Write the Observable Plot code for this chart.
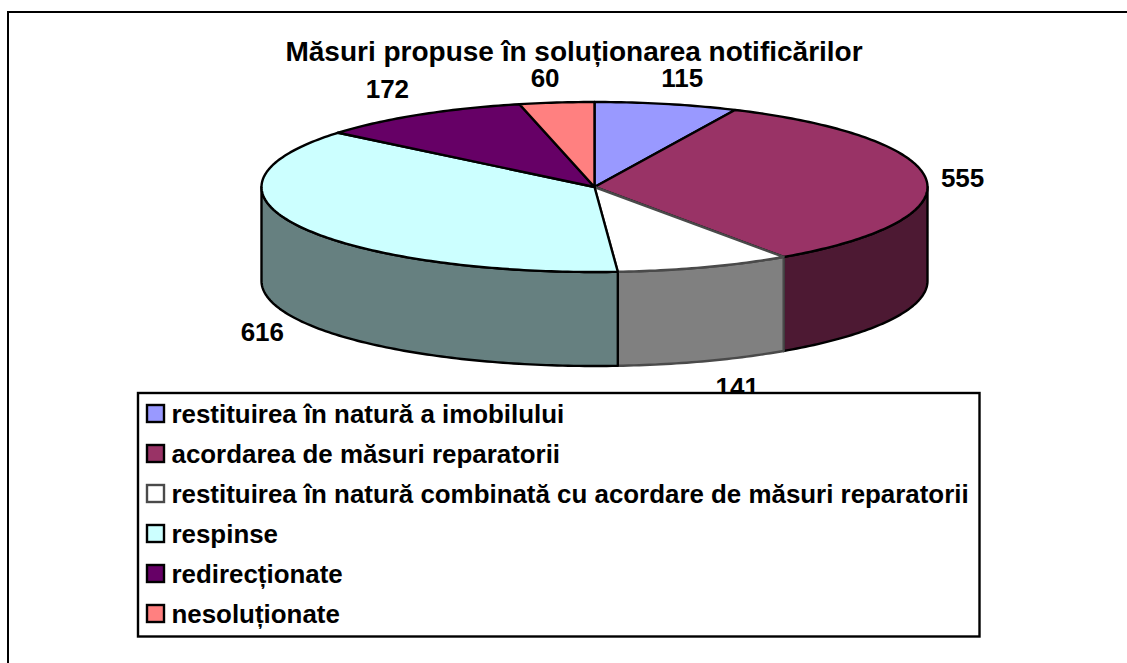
<!DOCTYPE html>
<html>
<head>
<meta charset="utf-8">
<script src="https://cdn.jsdelivr.net/npm/d3@7"></script>
<script src="https://cdn.jsdelivr.net/npm/@observablehq/plot@0.6"></script>
<style>html,body{margin:0;padding:0;background:#fff}svg{display:block}</style>
</head>
<body>
<div id="chart"></div>
<script>
const chartTitle = "Măsuri propuse în soluționarea notificărilor";
const categories = [
  "restituirea în natură a imobilului",
  "acordarea de măsuri reparatorii",
  "restituirea în natură combinată cu acordare de măsuri reparatorii",
  "respinse",
  "redirecționate",
  "nesoluționate"
];
const values = [115, 555, 141, 616, 172, 60];
const topColors = ["#9999FF", "#993366", "#FFFFFF", "#CCFFFF", "#660066", "#FF8080"];
const sideColors = ["#4D4D80", "#4D1933", "#808080", "#668080", "#330033", "#804040"];
const edgeColors = ["#000", "#000", "#4a4a4a", "#000", "#000", "#000"];
const labelNudgeX = [5, -13.5, 16, 8.5, -6, -6];
const labelNudgeY = [-12.5, 0, 14, 7, -14, -11.5];

// Pie geometry (projected ellipse)
const W = 1127, H = 663;
const cx = 594, cy = 186.5, rx = 333, ry = 85, depth = 94;
const total = d3.sum(values);
const cum = d3.cumsum(values);
const rad = v => (v / total) * 2 * Math.PI;
const px = a => cx + rx * Math.sin(a);
const py = a => cy - ry * Math.cos(a);
const arc = (a0, a1) => {
  const n = Math.max(2, Math.ceil(Math.abs(a1 - a0) * 60));
  return d3.range(n + 1).map(i => a0 + (a1 - a0) * i / n);
};
const slices = values.map((v, i) => ({i, a0: rad(cum[i] - v), a1: rad(cum[i])}));

const topShape = s => {
  const pts = [{x: cx, y: cy}, ...arc(s.a0, s.a1).map(a => ({x: px(a), y: py(a)})), {x: cx, y: cy}];
  return pts;
};
const sideShape = s => {
  const lo = Math.max(s.a0, Math.PI / 2), hi = Math.min(s.a1, 3 * Math.PI / 2);
  if (hi <= lo) return null;
  const t = arc(lo, hi);
  const pts = [...t.map(a => ({x: px(a), y: py(a)})), ...t.slice().reverse().map(a => ({x: px(a), y: py(a) + depth}))];
  pts.push(pts[0]);
  return pts;
};

const poly = (pts, fill, stroke) => Plot.line(pts, {x: "x", y: "y", fill, stroke, strokeWidth: 2.4, curve: "linear", strokeLinejoin: "round"});

const labels = slices.map(s => {
  const m = (s.a0 + s.a1) / 2;
  const front = Math.cos(m) < 0;
  return {
    text: String(values[s.i]),
    x: cx + 1.15 * rx * Math.sin(m) + labelNudgeX[s.i],
    y: cy - 1.15 * ry * Math.cos(m) + (front ? depth : 0) + labelNudgeY[s.i]
  };
});

const legendRows = categories.map((c, i) => ({c, i, y: 414 + 40 * i}));
const font = {fontFamily: "'Liberation Sans', Arial, sans-serif", fontWeight: "bold", fill: "#000"};

const marks = [
  // outer frame: left and top only
  Plot.ruleX([7.5], {y1: 11, y2: H, stroke: "#000", strokeWidth: 2}),
  Plot.ruleY([11.5], {x1: 7, x2: W, stroke: "#000", strokeWidth: 2}),
  Plot.text([chartTitle], {x: 573.5, y: 51.5, text: d => d, fontSize: 28, ...font}),
  ...slices.map(s => { const p = sideShape(s); return p ? poly(p, sideColors[s.i], edgeColors[s.i]) : null; }).filter(Boolean),
  ...slices.map(s => poly(topShape(s), topColors[s.i], edgeColors[s.i])),
  Plot.text(labels, {x: "x", y: "y", text: "text", fontSize: 26, ...font}),
  // legend box
  Plot.rect([0], {x1: 138, x2: 979.5, y1: 393, y2: 636.5, fill: "#fff", stroke: "#000", strokeWidth: 2.4}),
  Plot.rect(legendRows, {x1: 147, x2: 164, y1: d => d.y - 9, y2: d => d.y + 8, fill: d => topColors[d.i], stroke: d => edgeColors[d.i], strokeWidth: 2.4}),
  Plot.text(legendRows, {x: 171, y: "y", text: "c", textAnchor: "start", fontSize: 25.9, ...font})
];

const chart = Plot.plot({
  width: W, height: H,
  margin: 0,
  x: {type: "linear", domain: [0, W], range: [0, W], axis: null},
  y: {type: "linear", domain: [0, H], range: [0, H], axis: null},
  color: {type: "identity"},
  style: {background: "#fff"},
  marks
});
document.getElementById("chart").appendChild(chart);
</script>
</body>
</html>
